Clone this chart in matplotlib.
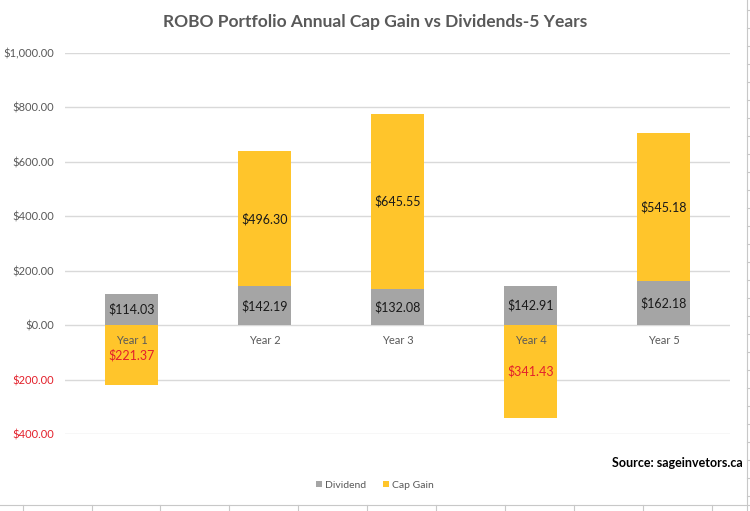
import matplotlib.pyplot as plt
import matplotlib.transforms as mtransforms
import numpy as np

# data
years = ['Year 1', 'Year 2', 'Year 3', 'Year 4', 'Year 5']
dividend = [114.03, 142.19, 132.08, 142.91, 162.18]
cap_gain = [-221.37, 496.30, 645.55, -341.43, 545.18]
y_ticks = [-400, -200, 0, 200, 400, 600, 800, 1000]

GREY = '#A5A5A5'
GOLD = '#FFC52B'
RED = '#E3202B'
TEXT = '#595959'

plt.rcParams['font.family'] = ['Lato', 'DejaVu Sans']


def money(v):
    return '${:,.2f}'.format(abs(v))


fig = plt.figure(figsize=(7.5, 5.11), dpi=100)
ax = fig.add_axes([65 / 750, 77 / 511, 665 / 750, 381 / 511])

x = np.arange(len(years))
width = 0.4
ax.bar(x, dividend, width, color=GREY, label='Dividend', zorder=2)
# positive gains sit on top of the dividend, losses hang below zero
bottoms = [d if c > 0 else 0 for d, c in zip(dividend, cap_gain)]
ax.bar(x, cap_gain, width, bottom=bottoms, color=GOLD, label='Cap Gain', zorder=2)

for i in x:
    ax.text(i, dividend[i] / 2, money(dividend[i]), ha='center', va='center',
            fontsize=9, color='#1a1a1a', zorder=3)
    c = cap_gain[i]
    ax.text(i, bottoms[i] + c / 2, money(c), ha='center', va='center',
            fontsize=9, color='#1a1a1a' if c > 0 else RED, zorder=3)

ax.set_xlim(-0.5, len(years) - 0.5)
ax.set_ylim(-400, 1000)
ax.set_yticks(y_ticks)
ax.set_yticklabels([money(v) for v in y_ticks], fontsize=8)
for lab, v in zip(ax.get_yticklabels(), y_ticks):
    lab.set_color(RED if v < 0 else TEXT)
ax.tick_params(axis='y', length=0, pad=8)
ax.yaxis.grid(True, color='#D9D9D9', linewidth=1, zorder=0)
ax.set_axisbelow(True)

for s in ax.spines.values():
    s.set_visible(False)
ax.set_xticks([])
# category labels sit just under the zero line, drawn over the bars
offset = mtransforms.offset_copy(ax.transData, fig=fig, x=0, y=-15, units='dots')
for i, name in enumerate(years):
    ax.text(i, 0, name, transform=offset, ha='center', va='center',
            fontsize=8, color=TEXT, zorder=5)

fig.text(0.5, 1 - 22 / 511, 'ROBO Portfolio Annual Cap Gain vs Dividends-5 Years',
         ha='center', va='center', fontsize=12.5, fontweight='bold', color=TEXT)
fig.text(743 / 750, 1 - 463 / 511, 'Source: sageinvetors.ca', ha='right',
         va='center', fontsize=9, fontweight='bold', color='black')

fig.legend(loc='center', bbox_to_anchor=(0.5, 1 - 485 / 511), ncol=2,
           frameon=False, fontsize=7.5, handlelength=0.6, handleheight=0.6,
           handletextpad=0.3, columnspacing=1.6, labelcolor=TEXT)

# spreadsheet cell borders peeking around the chart
line_color = '#C8C8C8'
fig.add_artist(plt.Line2D([0, 1], [1 - 505 / 511] * 2, color=line_color, lw=0.8))
for px in [23, 92, 160, 229, 298, 367, 436, 505, 574, 643, 712]:
    fig.add_artist(plt.Line2D([px / 750] * 2, [0, 1 - 505 / 511], color=line_color, lw=0.8))
fig.add_artist(plt.Line2D([747 / 750] * 2, [0, 1], color=line_color, lw=0.8))
for py in range(10, 505, 18):
    fig.add_artist(plt.Line2D([747 / 750, 1], [1 - py / 511] * 2, color=line_color, lw=0.8))

fig.savefig('out.png', dpi=100)
